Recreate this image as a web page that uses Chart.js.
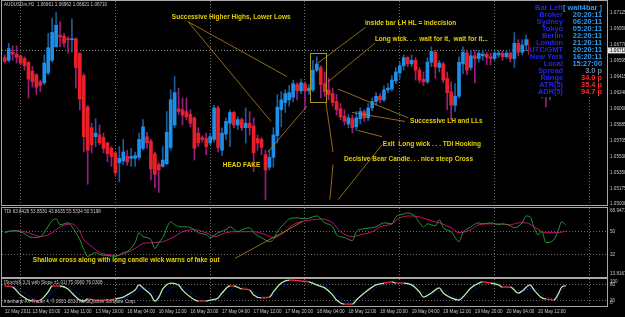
<!DOCTYPE html>
<html>
<head>
<meta charset="utf-8">
<script src="https://cdn.jsdelivr.net/npm/chart.js@4.4.1/dist/chart.umd.min.js"></script>
<style>
  html, body { margin: 0; padding: 0; background: #000; width: 625px; height: 317px; overflow: hidden; }
  canvas { position: absolute; left: 0; top: 0; }
</style>
</head>
<body>
<canvas id="mainPane" width="625" height="317"></canvas>
<canvas id="tdiPane" width="625" height="317"></canvas>
<canvas id="stochPane" width="625" height="317"></canvas>
<script>
// ---- AUDUSDm H1 candles (bar 0 = 12 May 2011 20:00) ----
const barOpen = [
  1.0663,1.0660,1.0669,1.0667,1.0665,1.0662,1.0658,1.0648,1.0644,1.0636,
  1.0635,1.0646,1.0660,1.0675,1.0688,1.0687,1.0684,1.0683,1.0684,1.0668,
  1.0643,1.0608,1.0585,1.0575,1.0577,1.0574,1.0568,1.0562,1.0557,1.0546,
  1.0548,1.0553,1.0551,1.0551,1.0552,1.0562,1.0575,1.0570,1.0556,1.0544,
  1.0542,1.0545,1.0563,1.0588,1.0606,1.0605,1.0603,1.0600,1.0596,1.0579,
  1.0574,1.0573,1.0568,1.0572,1.0607,1.0560,1.0578,1.0590,1.0602,1.0588,
  1.0594,1.0585,1.0590,1.0587,1.0573,1.0572,1.0555,1.0541,1.0552,1.0576,
  1.0605,1.0613,1.0616,1.0619,1.0633,1.0626,1.0634,1.0626,1.0627,1.0649,
  1.0652,1.0634,1.0627,1.0623,1.0614,1.0606,1.0598,1.0589,1.0595,1.0586,
  1.0595,1.0603,1.0596,1.0607,1.0614,1.0620,1.0616,1.0627,1.0628,1.0637,
  1.0646,1.0654,1.0663,1.0656,1.0660,1.0649,1.0639,1.0636,1.0658,1.0669,
  1.0652,1.0656,1.0640,1.0625,1.0610,1.0620,1.0656,1.0668,1.0652,1.0665,
  1.0662,1.0665,1.0667,1.0664,1.0662,1.0666,1.0668,1.0664,1.0668,1.0662,
  1.0679,1.0669,1.0677,1.0683,1.0666,1.0655,1.0660,1.0638,1.0627,1.0644,
  1.0658,1.0671,1.0666
];
const barHigh = [
  1.0666,1.0679,1.0676,1.0676,1.0666,1.0664,1.0658,1.0653,1.0645,1.0638,
  1.0666,1.0690,1.0707,1.0713,1.0703,1.0690,1.0686,1.0706,1.0685,1.0668,
  1.0645,1.0610,1.0590,1.0595,1.0588,1.0579,1.0569,1.0564,1.0558,1.0564,
  1.0572,1.0560,1.0562,1.0558,1.0579,1.0594,1.0580,1.0572,1.0558,1.0546,
  1.0564,1.0603,1.0627,1.0642,1.0629,1.0618,1.0618,1.0605,1.0597,1.0585,
  1.0576,1.0579,1.0579,1.0610,1.0609,1.0585,1.0596,1.0605,1.0603,1.0597,
  1.0596,1.0607,1.0603,1.0596,1.0577,1.0574,1.0560,1.0560,1.0585,1.0622,
  1.0625,1.0627,1.0632,1.0638,1.0635,1.0639,1.0636,1.0633,1.0660,1.0664,
  1.0654,1.0647,1.0640,1.0629,1.0622,1.0612,1.0605,1.0600,1.0599,1.0603,
  1.0607,1.0605,1.0612,1.0618,1.0624,1.0623,1.0632,1.0634,1.0643,1.0652,
  1.0658,1.0666,1.0664,1.0666,1.0663,1.0652,1.0647,1.0663,1.0675,1.0671,
  1.0660,1.0658,1.0647,1.0636,1.0634,1.0664,1.0675,1.0671,1.0671,1.0671,
  1.0671,1.0671,1.0669,1.0668,1.0671,1.0671,1.0670,1.0671,1.0669,1.0691,
  1.0683,1.0683,1.0688,1.0685,1.0671,1.0666,1.0663,1.0644,1.0649,1.0663,
  1.0677,1.0677,1.0676
];
const barLow = [
  1.0657,1.0658,1.0660,1.0657,1.0655,1.0649,1.0618,1.0630,1.0622,1.0625,
  1.0633,1.0644,1.0658,1.0675,1.0675,1.0675,1.0668,1.0669,1.0629,1.0605,
  1.0558,1.0522,1.0557,1.0564,1.0566,1.0557,1.0547,1.0542,1.0531,1.0525,
  1.0544,1.0543,1.0542,1.0542,1.0549,1.0560,1.0562,1.0527,1.0518,1.0513,
  1.0541,1.0544,1.0560,1.0585,1.0600,1.0588,1.0594,1.0586,1.0549,1.0564,
  1.0569,1.0555,1.0566,1.0569,1.0558,1.0554,1.0572,1.0564,1.0585,1.0583,
  1.0582,1.0568,1.0577,1.0536,1.0560,1.0555,1.0505,1.0538,1.0541,1.0568,
  1.0586,1.0602,1.0609,1.0614,1.0616,1.0623,1.0605,1.0622,1.0625,1.0647,
  1.0618,1.0620,1.0616,1.0609,1.0599,1.0594,1.0588,1.0585,1.0579,1.0582,
  1.0589,1.0592,1.0593,1.0604,1.0610,1.0613,1.0614,1.0624,1.0626,1.0634,
  1.0640,1.0649,1.0653,1.0653,1.0638,1.0635,1.0632,1.0634,1.0653,1.0640,
  1.0647,1.0635,1.0605,1.0594,1.0603,1.0618,1.0645,1.0644,1.0649,1.0635,
  1.0658,1.0660,1.0655,1.0655,1.0660,1.0663,1.0660,1.0662,1.0658,1.0652,
  1.0665,1.0666,1.0671,1.0660,1.0647,1.0644,1.0618,1.0608,1.0616,1.0638,
  1.0654,1.0660,1.0663
];
const barClose = [
  1.0659,1.0673,1.0667,1.0663,1.0657,1.0654,1.0639,1.0636,1.0630,1.0632,
  1.0657,1.0674,1.0691,1.0699,1.0686,1.0679,1.0683,1.0684,1.0652,1.0617,
  1.0575,1.0560,1.0566,1.0579,1.0568,1.0562,1.0556,1.0553,1.0535,1.0551,
  1.0558,1.0547,1.0553,1.0554,1.0572,1.0586,1.0568,1.0539,1.0533,1.0538,
  1.0549,1.0580,1.0616,1.0624,1.0603,1.0599,1.0597,1.0590,1.0562,1.0568,
  1.0572,1.0564,1.0575,1.0607,1.0563,1.0579,1.0592,1.0602,1.0588,1.0594,
  1.0585,1.0590,1.0585,1.0557,1.0568,1.0563,1.0538,1.0552,1.0577,1.0608,
  1.0616,1.0623,1.0624,1.0634,1.0626,1.0635,1.0626,1.0629,1.0649,1.0656,
  1.0633,1.0625,1.0622,1.0613,1.0605,1.0597,1.0592,1.0596,1.0585,1.0596,
  1.0603,1.0596,1.0607,1.0614,1.0620,1.0616,1.0627,1.0629,1.0638,1.0647,
  1.0654,1.0663,1.0656,1.0660,1.0649,1.0638,1.0636,1.0658,1.0670,1.0653,
  1.0657,1.0638,1.0624,1.0610,1.0620,1.0658,1.0669,1.0649,1.0665,1.0662,
  1.0668,1.0667,1.0663,1.0662,1.0668,1.0668,1.0664,1.0668,1.0662,1.0679,
  1.0669,1.0677,1.0683,1.0666,1.0655,1.0660,1.0638,1.0627,1.0644,1.0658,
  1.0671,1.0666,1.0671
];
const bidPrice = 1.06710;
const priceTicks = [1.07125,1.06950,1.06770,1.06595,1.06415,1.06240,1.06060,1.05885,1.05705,1.05530,1.05350,1.05175,1.05000];

// time axis
const dayStarts = [4, 28, 52, 76, 100, 124, 148];
const timeTickBars = [0,7,15,23,31,39,47,55,63,71,79,87,95,103,111,119,127,135];
const timeTickLabels = ["12 May 2011","13 May 03:00","13 May 11:00","13 May 19:00","16 May 04:00","16 May 12:00",
  "16 May 20:00","17 May 04:00","17 May 12:00","17 May 20:00","18 May 04:00","18 May 12:00","18 May 20:00",
  "19 May 04:00","19 May 12:00","19 May 20:00","20 May 04:00","20 May 12:00"];

// ---- TDI ----
const tdiPriceBars = [0,2,4,7,9,12,13,14,16,17,19,20,21,23,24,26,28,30,31,33,34,35,37,38,39,40,42,43,45,46,
  48,49,51,52,54,56,57,59,60,62,63,65,67,68,69,71,72,74,76,78,79,81,83,84,86,88,89,91,93,94,
  96,98,99,101,102,104,105,106,107,109,110,111,113,115,116,118,120,121,123,125,126,128,129,131,132,133,134,135,136,137,
  139,140,141,142];
const tdiPriceVals = [49.2,50.8,50,45.3,46.1,58.7,60.3,55.5,57.1,53.9,43.7,35.8,30.3,33.4,31.8,31.0,30.3,33.4,34.2,41.3,
  49.2,46.1,43.7,36.6,41.3,45.3,57.9,55.5,53.9,53.9,51.6,49.2,47.6,45.3,49.2,51.6,53.9,50,51.6,53.2,
  49.2,45.3,42.1,43.7,50,57.1,60.3,61.1,60.3,61.8,62.6,57.1,53.9,47.6,45.3,42.9,50,52.4,53.2,53.9,
  57.1,56.3,61.8,64.2,65.0,61.8,57.1,53.9,56.3,54.7,59.5,53.2,50,42.1,49.2,53.9,57.1,56.3,57.1,55.5,
  56.3,54.7,53.2,57.1,62.6,61.8,53.2,47.6,50,41.3,43.7,50,57.9,55.53];
const tdiSignalBars = [0,3,6,9,12,14,17,19,20,22,24,26,28,31,33,35,38,40,43,45,48,51,53,56,58,61,63,66,68,71,
  73,76,78,80,83,85,88,90,93,95,98,100,103,105,108,110,113,115,118,120,123,125,128,130,132,134,137,140,142];
const tdiSignalVals = [50,50.8,49.2,46.1,49.2,53.9,56.3,50,43.7,38.2,33.4,31.8,31.0,33.4,36.6,40.5,41.3,42.1,46.1,50,
  51.6,49.2,46.1,49.2,50,50,50,47.6,45.3,50,55.5,58.7,59.5,60.3,57.1,50,46.1,47.6,50,53.9,
  56.3,61.1,62.6,61.8,58.7,57.1,53.2,49.2,51.6,55.5,56.3,56.3,55.5,57.1,57.1,53.9,49.2,49.2,50.52];
const tdiTicks = [68.9471, 50, 32, 13.8167];
const tdiLevels = [50, 32];

// ---- Stochastic ----
const stochBars = [0,2,4,7,9,11,12,14,16,17,19,20,21,23,24,26,28,30,31,33,34,35,37,38,39,40,42,44,45,47,
  49,51,52,54,55,57,58,60,62,63,65,67,68,70,72,73,75,77,79,81,83,84,86,88,89,91,93,94,96,98,
  99,101,103,105,106,108,110,111,113,115,116,118,120,121,123,125,126,128,130,131,133,134,136,137,139,140,141,142];
const stochMain = [74,70,41,18.5,22,52,74,74,63,48,22,18.5,26,22,22,22,26,33,41,59,
  78,67,41,18.5,33,63,85,78,59,33,18.5,18.5,22,30,48,74,74,63,59,41,
  30,33,52,85,96,96,92.5,89,78,67,41,22,7,7,22,48,70,78,85,89,
  85,85,78,52,33,48,67,48,30,22,33,67,85,89,85,78,70,70,48,55.5,
  78,59,30,26,22,41,70,75.1];
const stochSignal = [72,72,58,30,20,35,50,68,70,62,42,28,22,22,22,22,24,28,33,45,
  60,68,60,40,28,40,65,80,72,52,30,20,20,25,35,55,68,70,62,52,
  38,32,40,65,85,92,94,91,85,75,58,40,20,10,14,30,52,66,78,86,
  87,86,82,68,50,42,55,55,42,28,28,48,72,82,86,82,76,72,58,55,
  65,64,45,35,26,30,50,76.0];
const stochTicks = [100, 80, 20, 0];
const stochLevels = [80, 20];

// ---- notes drawn on the chart (bar index, price) ----
const noteTexts = ["Successive Higher Highs, Lower Lows", "inside bar LH HL = indecision",
  "Long wick. . .  wait for it,  wait for it...", "Successive LH and LLs",
  "Exit  Long wick . . . TDI Hooking", "Decisive Bear Candle. . . nice steep Cross", "HEAD FAKE"];
const noteBars = [42.3, 91.2, 93.7, 102.6, 95.7, 85.9, 55.2];
const notePrices = [1.0708, 1.0701, 1.0684, 1.0592, 1.0567, 1.0550, 1.0543];
const arrowFromBar = [46.4, 46.4, 91.4, 93.7, 84.4, 87.9, 89.4, 81.3, 83.1, 84.4, 66.6];
const arrowFromPrice = [1.0703, 1.0703, 1.0697, 1.0679, 1.0628, 1.0602, 1.0582, 1.0613, 1.0544, 1.0505, 1.0558];
const arrowToBar = [71.4, 67.4, 79.3, 81.8, 102.1, 101.3, 95.5, 83.1, 82.3, 95.5, 76.5];
const arrowToPrice = [1.0642, 1.0592, 1.0657, 1.0636, 1.0596, 1.0592, 1.0575, 1.0558, 1.0505, 1.0566, 1.0609];
const boxBars = [77.3, 81.3];
const boxPrices = [1.0668, 1.0613];
const tdiNote = "Shallow cross along with long candle wick warns of fake out";
const tdiNoteBar = 7.1, tdiNoteVal = 27.1;
const tdiArrowBars = [58.3, 75.3];
const tdiArrowVals = [28.7, 57.9];

// info panel
const panelLabels = ["Bar Left","Broker","Sydney","Tokyo","Berlin","London","UTC/GMT","New York","Local","Spread","Range","ATR(5)","ADR(5)"];
const panelValues = ["[ wait4bar ]","20:20:11","06:20:11","05:20:11","22:20:11","21:20:11","20:20:11","16:20:11","15:27:00","3.0 p","34.0 p","35.4 p","94.7 p"];

const X_MIN = -0.7, X_MAX = 152.46;
const FONT = '"Liberation Sans", Arial, sans-serif';
const AXIS_COLOR = '#c8c8c8';
const NOTE_COLOR = '#e4d000';
const LINE_COLOR = '#b8861c';

const pts = (xs, ys) => xs.map((x, k) => ({ x: x, y: ys[k] }));
const isBull = i => barClose[i] >= barOpen[i];

function dayGridAxis(extra) {
  return Object.assign({
    type: 'linear', min: X_MIN, max: X_MAX, offset: false,
    grid: { offset: false, color: '#6a6a6a', lineWidth: 1, drawTicks: false },
    border: { display: false, dash: [1, 2] },
    ticks: { display: false },
    afterBuildTicks: s => { s.ticks = dayStarts.map(v => ({ value: v })); },
    afterFit: s => { s.height = 0; s.paddingLeft = 0; s.paddingRight = 0; }
  }, extra || {});
}

function paneBorder(ctx, a) {
  ctx.save();
  ctx.strokeStyle = '#a8a8a8';
  ctx.lineWidth = 1;
  ctx.strokeRect(Math.round(a.left) - 0.5, Math.round(a.top) - 0.5,
    Math.round(a.right - a.left) + 1, Math.round(a.bottom - a.top) + 1);
  ctx.restore();
}

function smallText(ctx, txt, x, y, color) {
  ctx.font = '4.6px ' + FONT;
  ctx.fillStyle = color || AXIS_COLOR;
  ctx.textAlign = 'left';
  ctx.textBaseline = 'middle';
  ctx.fillText(txt, x, y);
}

function rightLabels(chart, values, fmt) {
  const ctx = chart.ctx, s = chart.scales.y, a = chart.chartArea;
  values.forEach(v => {
    let y = s.getPixelForValue(v);
    y = Math.min(Math.max(y, a.top + 3), a.bottom - 3);
    smallText(ctx, fmt(v), a.right + 3, y);
  });
}

function noteLine(ctx, x1, y1, x2, y2) {
  ctx.beginPath();
  ctx.moveTo(x1, y1);
  ctx.lineTo(x2, y2);
  ctx.stroke();
}

function noteText(ctx, txt, x, y) {
  ctx.font = 'bold 6.5px ' + FONT;
  ctx.textAlign = 'left';
  ctx.textBaseline = 'middle';
  ctx.fillStyle = NOTE_COLOR;
  ctx.fillText(txt, x, y);
}

// ---------- main pane ----------
const mainDecor = {
  id: 'mainDecor',
  afterDatasetsDraw(chart) {
    const ctx = chart.ctx, xs = chart.scales.x, ys = chart.scales.y, a = chart.chartArea;
    ctx.save();
    ctx.beginPath();
    ctx.rect(a.left, a.top, a.right - a.left, a.bottom - a.top);
    ctx.clip();
    // drawn lines and box
    ctx.strokeStyle = LINE_COLOR;
    ctx.lineWidth = 0.8;
    arrowFromBar.forEach((b, k) => {
      noteLine(ctx, xs.getPixelForValue(b), ys.getPixelForValue(arrowFromPrice[k]),
        xs.getPixelForValue(arrowToBar[k]), ys.getPixelForValue(arrowToPrice[k]));
    });
    ctx.strokeStyle = '#a89822';
    ctx.lineWidth = 1;
    const bx1 = xs.getPixelForValue(boxBars[0]), bx2 = xs.getPixelForValue(boxBars[1]);
    const by1 = ys.getPixelForValue(boxPrices[0]), by2 = ys.getPixelForValue(boxPrices[1]);
    ctx.strokeRect(Math.round(bx1) + 0.5, Math.round(by1) + 0.5, Math.round(bx2 - bx1), Math.round(by2 - by1));
    noteTexts.forEach((t, k) => noteText(ctx, t, xs.getPixelForValue(noteBars[k]), ys.getPixelForValue(notePrices[k])));

    // info panel
    const px = a.right - 78;
    ctx.fillStyle = '#000';
    ctx.fillRect(px, a.top + 1, 77, 95);
    ctx.font = 'bold 7.4px ' + FONT;
    ctx.textBaseline = 'middle';
    panelLabels.forEach((lab, k) => {
      const y = a.top + 7.3 + k * 6.95;
      ctx.textAlign = 'right';
      ctx.fillStyle = '#2424e8';
      ctx.fillText(lab, a.right - 44, y);
      ctx.fillStyle = k < 9 ? '#2c9cf0' : (k === 9 ? '#7088b0' : '#ff2a2a');
      ctx.fillText(panelValues[k], a.right - 5, y);
    });
    ctx.restore();

    ctx.save();
    smallText(ctx, 'AUDUSDm,H1  1.06961 1.06962 1.06621 1.06710', a.left + 2, a.top + 4);
    // current bid label on the price axis
    const by = ys.getPixelForValue(bidPrice);
    ctx.fillStyle = '#e6e6e6';
    ctx.fillRect(a.right + 1, by - 3, 18, 6);
    smallText(ctx, bidPrice.toFixed(5), a.right + 3, by, '#000');
    ctx.restore();
    paneBorder(ctx, a);
  }
};

new Chart(document.getElementById('mainPane'), {
  type: 'bar',
  data: {
    datasets: [
      {
        data: barOpen.map((o, i) => ({ x: i, y: [o, barClose[i]] })),
        backgroundColor: c => isBull(c.dataIndex) ? '#1e8fe8' : '#e8202a',
        barThickness: 3, grouped: false, minBarLength: 1, order: 0
      },
      {
        data: barLow.map((l, i) => ({ x: i, y: [l, barHigh[i]] })),
        backgroundColor: c => isBull(c.dataIndex) ? '#1b5d98' : '#9c1c80',
        barThickness: 1, grouped: false, order: 1
      },
      {
        type: 'line',
        data: [{ x: X_MIN, y: bidPrice }, { x: X_MAX, y: bidPrice }],
        borderColor: '#8c8c8c', borderWidth: 1, borderDash: [1, 2], pointRadius: 0, order: 2
      }
    ]
  },
  options: {
    responsive: false, animation: false, events: [],
    layout: { padding: { left: 2, top: 1, right: 0, bottom: 112 } },
    plugins: { legend: { display: false }, tooltip: { enabled: false } },
    scales: {
      x: dayGridAxis(),
      y: {
        position: 'right', min: 1.0499, max: 1.0726,
        grid: { display: false, drawTicks: false },
        border: { display: false },
        ticks: { color: AXIS_COLOR, font: { family: FONT, size: 4.6 }, padding: 3, callback: v => v.toFixed(5) },
        afterBuildTicks: s => { s.ticks = priceTicks.map(v => ({ value: v })); },
        afterFit: s => { s.width = 18; s.paddingTop = 0; s.paddingBottom = 0; }
      }
    }
  },
  plugins: [mainDecor]
});

// ---------- TDI pane ----------
const tdiDecor = {
  id: 'tdiDecor',
  afterDatasetsDraw(chart) {
    const ctx = chart.ctx, xs = chart.scales.x, ys = chart.scales.y, a = chart.chartArea;
    ctx.save();
    ctx.strokeStyle = LINE_COLOR;
    ctx.lineWidth = 0.8;
    noteLine(ctx, xs.getPixelForValue(tdiArrowBars[0]), ys.getPixelForValue(tdiArrowVals[0]),
      xs.getPixelForValue(tdiArrowBars[1]), ys.getPixelForValue(tdiArrowVals[1]));
    noteText(ctx, tdiNote, xs.getPixelForValue(tdiNoteBar), ys.getPixelForValue(tdiNoteVal));
    smallText(ctx, 'TDI 63.8426 53.8530 43.8635 55.5334 50.5198', a.left + 2, a.top + 3.5);
    rightLabels(chart, tdiTicks, v => (v === 50 || v === 32) ? String(v) : v.toFixed(4));
    ctx.restore();
    paneBorder(ctx, a);
  }
};

new Chart(document.getElementById('tdiPane'), {
  type: 'line',
  data: {
    datasets: [
      { data: pts(tdiPriceBars, tdiPriceVals), borderColor: '#1f9a34', borderWidth: 1, pointRadius: 0, cubicInterpolationMode: 'monotone' },
      { data: pts(tdiSignalBars, tdiSignalVals), borderColor: '#c4126e', borderWidth: 1, pointRadius: 0, cubicInterpolationMode: 'monotone' }
    ]
  },
  options: {
    responsive: false, animation: false, events: [],
    layout: { padding: { left: 2, top: 208, right: 0, bottom: 40 } },
    plugins: { legend: { display: false }, tooltip: { enabled: false } },
    scales: {
      x: dayGridAxis(),
      y: {
        position: 'right', min: 13.8167, max: 68.9471,
        grid: { color: c => tdiLevels.includes(c.tick.value) ? '#6a6a6a' : 'rgba(0,0,0,0)', drawTicks: false },
        border: { display: false, dash: [1, 2] },
        ticks: { display: false },
        afterBuildTicks: s => { s.ticks = tdiTicks.map(v => ({ value: v })); },
        afterFit: s => { s.width = 18; s.paddingTop = 0; s.paddingBottom = 0; }
      }
    }
  },
  plugins: [tdiDecor]
});

// ---------- Stochastic pane ----------
const stochDecor = {
  id: 'stochDecor',
  afterDatasetsDraw(chart) {
    const ctx = chart.ctx, a = chart.chartArea;
    ctx.save();
    smallText(ctx, '[Stoch(8,3,3) with Slope \u00b11.01] 75.0960 76.0308', a.left + 2, a.top + 4);
    smallText(ctx, 'Interbank FX Trader 4, \u00a9 2001-2010 MetaQuotes Software Corp.', a.left + 2, a.bottom - 4);
    rightLabels(chart, stochTicks, v => String(v));
    ctx.restore();
    paneBorder(ctx, a);
  }
};

const flatSeg = c => Math.abs((c.p1.parsed.y - c.p0.parsed.y) / (c.p1.parsed.x - c.p0.parsed.x)) < 3.5;

new Chart(document.getElementById('stochPane'), {
  type: 'line',
  data: {
    datasets: [
      {
        data: pts(stochBars, stochMain), borderColor: '#b4ecae', borderWidth: 1.3, pointRadius: 0,
        cubicInterpolationMode: 'monotone',
        segment: { borderColor: c => flatSeg(c) ? '#ff2626' : undefined }
      },
      {
        data: pts(stochBars, stochSignal), borderColor: '#2430ff', borderWidth: 1, borderDash: [1, 2],
        pointRadius: 0, cubicInterpolationMode: 'monotone'
      }
    ]
  },
  options: {
    responsive: false, animation: false, events: [],
    layout: { padding: { left: 2, top: 279, right: 0, bottom: 0 } },
    plugins: { legend: { display: false }, tooltip: { enabled: false } },
    scales: {
      x: {
        type: 'linear', min: X_MIN, max: X_MAX, offset: false,
        grid: { display: false, drawTicks: false },
        border: { display: false },
        ticks: {
          color: AXIS_COLOR, font: { family: FONT, size: 4.6 }, align: 'start',
          maxRotation: 0, autoSkip: false, padding: 3,
          callback: (v, k) => timeTickLabels[k]
        },
        afterBuildTicks: s => { s.ticks = timeTickBars.map(v => ({ value: v })); },
        afterFit: s => { s.height = 11; s.paddingLeft = 0; s.paddingRight = 0; }
      },
      xg: dayGridAxis({ position: 'bottom' }),
      y: {
        position: 'right', min: 0, max: 100,
        grid: { color: c => stochLevels.includes(c.tick.value) ? '#6a6a6a' : 'rgba(0,0,0,0)', drawTicks: false },
        border: { display: false, dash: [1, 2] },
        ticks: { display: false },
        afterBuildTicks: s => { s.ticks = stochTicks.map(v => ({ value: v })); },
        afterFit: s => { s.width = 18; s.paddingTop = 0; s.paddingBottom = 0; }
      }
    }
  },
  plugins: [stochDecor]
});
</script>
</body>
</html>
